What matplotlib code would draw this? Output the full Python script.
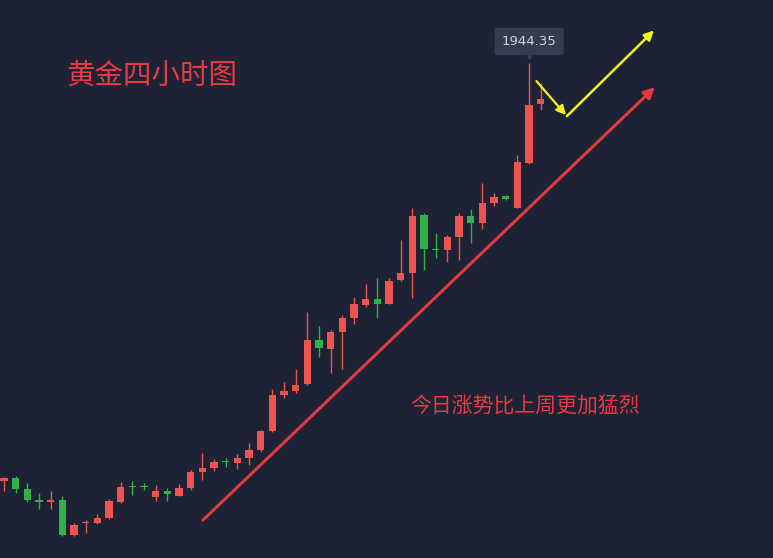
import numpy as np
import matplotlib
matplotlib.use("Agg")
import matplotlib.pyplot as plt
from matplotlib.transforms import offset_copy

plt.rcParams['font.family'] = ['Noto Sans CJK SC', 'DejaVu Sans']

# 4h gold candles (open, high, low, close)
opens = [1819.1, 1820.0, 1816.6, 1813.3, 1812.7, 1813.3, 1802.8, 1806.4, 1806.5, 1807.9,
         1812.8, 1817.5, 1817.4, 1814.2, 1816.1, 1814.6, 1816.8, 1821.8, 1822.9, 1824.9,
         1824.4, 1826.0, 1828.3, 1834.0, 1844.7, 1846.0, 1848.0, 1861.3, 1858.6, 1863.8,
         1868.0, 1871.8, 1873.6, 1872.1, 1879.2, 1881.4, 1898.8, 1888.6, 1888.3, 1892.3,
         1898.6, 1896.4, 1902.3, 1904.4, 1900.9, 1914.5, 1932.1]
highs = [1820.3, 1820.6, 1818.5, 1815.4, 1816.1, 1814.6, 1806.4, 1807.3, 1809.1, 1813.6,
         1818.7, 1819.1, 1818.5, 1817.8, 1816.9, 1818.1, 1822.3, 1827.4, 1825.6, 1825.9,
         1827.1, 1830.5, 1834.3, 1846.6, 1848.8, 1852.6, 1869.8, 1865.5, 1864.3, 1868.8,
         1874.3, 1878.1, 1880.0, 1879.9, 1891.3, 1900.9, 1899.4, 1893.4, 1892.8, 1899.4,
         1900.6, 1908.4, 1905.3, 1904.7, 1916.8, 1944.35, 1938.4]
lows = [1816.1, 1815.4, 1812.7, 1810.6, 1810.6, 1802.6, 1802.6, 1803.5, 1806.1, 1807.6,
        1812.4, 1814.8, 1816.3, 1813.0, 1813.0, 1814.4, 1816.3, 1819.3, 1822.1, 1823.3,
        1822.6, 1823.8, 1827.8, 1833.8, 1843.9, 1845.4, 1847.8, 1856.3, 1851.4, 1852.6,
        1866.1, 1871.3, 1867.9, 1872.0, 1879.1, 1873.9, 1882.3, 1885.9, 1884.7, 1885.3,
        1890.4, 1894.6, 1901.4, 1903.3, 1900.8, 1914.0, 1930.3]
closes = [1819.9, 1816.6, 1813.3, 1812.8, 1813.3, 1802.8, 1805.8, 1806.8, 1808.0, 1813.1,
          1817.3, 1817.2, 1817.2, 1816.0, 1815.0, 1816.8, 1821.8, 1823.0, 1824.8, 1824.6,
          1826.0, 1828.3, 1834.1, 1844.8, 1846.0, 1847.8, 1861.3, 1859.0, 1863.8, 1868.0,
          1872.1, 1873.6, 1872.1, 1879.0, 1881.5, 1898.6, 1888.6, 1888.3, 1892.3, 1898.6,
          1896.5, 1902.4, 1904.2, 1903.5, 1914.7, 1931.8, 1933.6]

peak_label = "1944.35"
title = "黄金四小时图"
note = "今日涨势比上周更加猛烈"

# hand-drawn arrows (candle index, price)
red_arrow = [(17.05, 1807.3), (55.78, 1937.2)]
yellow_down = [(45.63, 1939.0), (48.16, 1928.8)]
yellow_up = [(48.24, 1928.5), (55.70, 1954.2)]

bg = '#1d2234'
up_col = '#ef5350'
down_col = '#2fb348'
tag_col = '#323d51'

fig = plt.figure(figsize=(7.73, 5.58), dpi=100, facecolor=bg)
ax = fig.add_axes([0, 0, 1, 1])
ax.set_facecolor(bg)

x = np.arange(len(opens))
o = np.array(opens); h = np.array(highs); l = np.array(lows); c = np.array(closes)
cols = [up_col if cc >= oo else down_col for oo, cc in zip(o, c)]

ax.vlines(x, l, h, colors=cols, linewidth=1.0, zorder=2)
body_bottom = np.minimum(o, c)
body_h = np.maximum(np.abs(c - o), 0.35)
ax.bar(x, body_h, bottom=body_bottom, width=0.62, color=cols, linewidth=0, zorder=3)

ax.set_xlim(-0.343, 65.9)
ax.set_ylim(1963.34 - 558 * 0.3, 1963.34)
ax.axis('off')

# peak price tag with small pointer
imax = int(np.argmax(h))
ax.annotate(peak_label, xy=(x[imax], h[imax]), xytext=(0, 15.7), textcoords='offset points',
            ha='center', va='center', fontsize=9.5, color='#cfd4dd', family=['DejaVu Sans'],
            bbox=dict(boxstyle='round,pad=0.55,rounding_size=0.2', fc=tag_col, ec='none'),
            zorder=5)
notch = offset_copy(ax.transData, fig=fig, x=0, y=5.5, units='points')
ax.plot([x[imax]], [h[imax]], marker='v', ms=5, color=tag_col, transform=notch, zorder=5)

# arrows
ax.annotate('', xy=red_arrow[1], xytext=red_arrow[0],
            arrowprops=dict(arrowstyle='-|>', color='#e03a40', lw=2.2, mutation_scale=16,
                            shrinkA=0, shrinkB=0), zorder=4)
ax.annotate('', xy=yellow_down[1], xytext=yellow_down[0],
            arrowprops=dict(arrowstyle='-|>', color='#f4f41c', lw=1.6, mutation_scale=14,
                            shrinkA=0, shrinkB=0), zorder=4)
ax.annotate('', xy=yellow_up[1], xytext=yellow_up[0],
            arrowprops=dict(arrowstyle='-|>', color='#f4f41c', lw=1.8, mutation_scale=14,
                            shrinkA=0, shrinkB=0), zorder=4)

fig.text(152 / 773, 1 - 76 / 558, title, ha='center', va='center', fontsize=20.5, color='#e83a40')
fig.text(525 / 773, 1 - 407 / 558, note, ha='center', va='center', fontsize=15, color='#e83a40')

fig.savefig('out.png', dpi=100, facecolor=bg)
